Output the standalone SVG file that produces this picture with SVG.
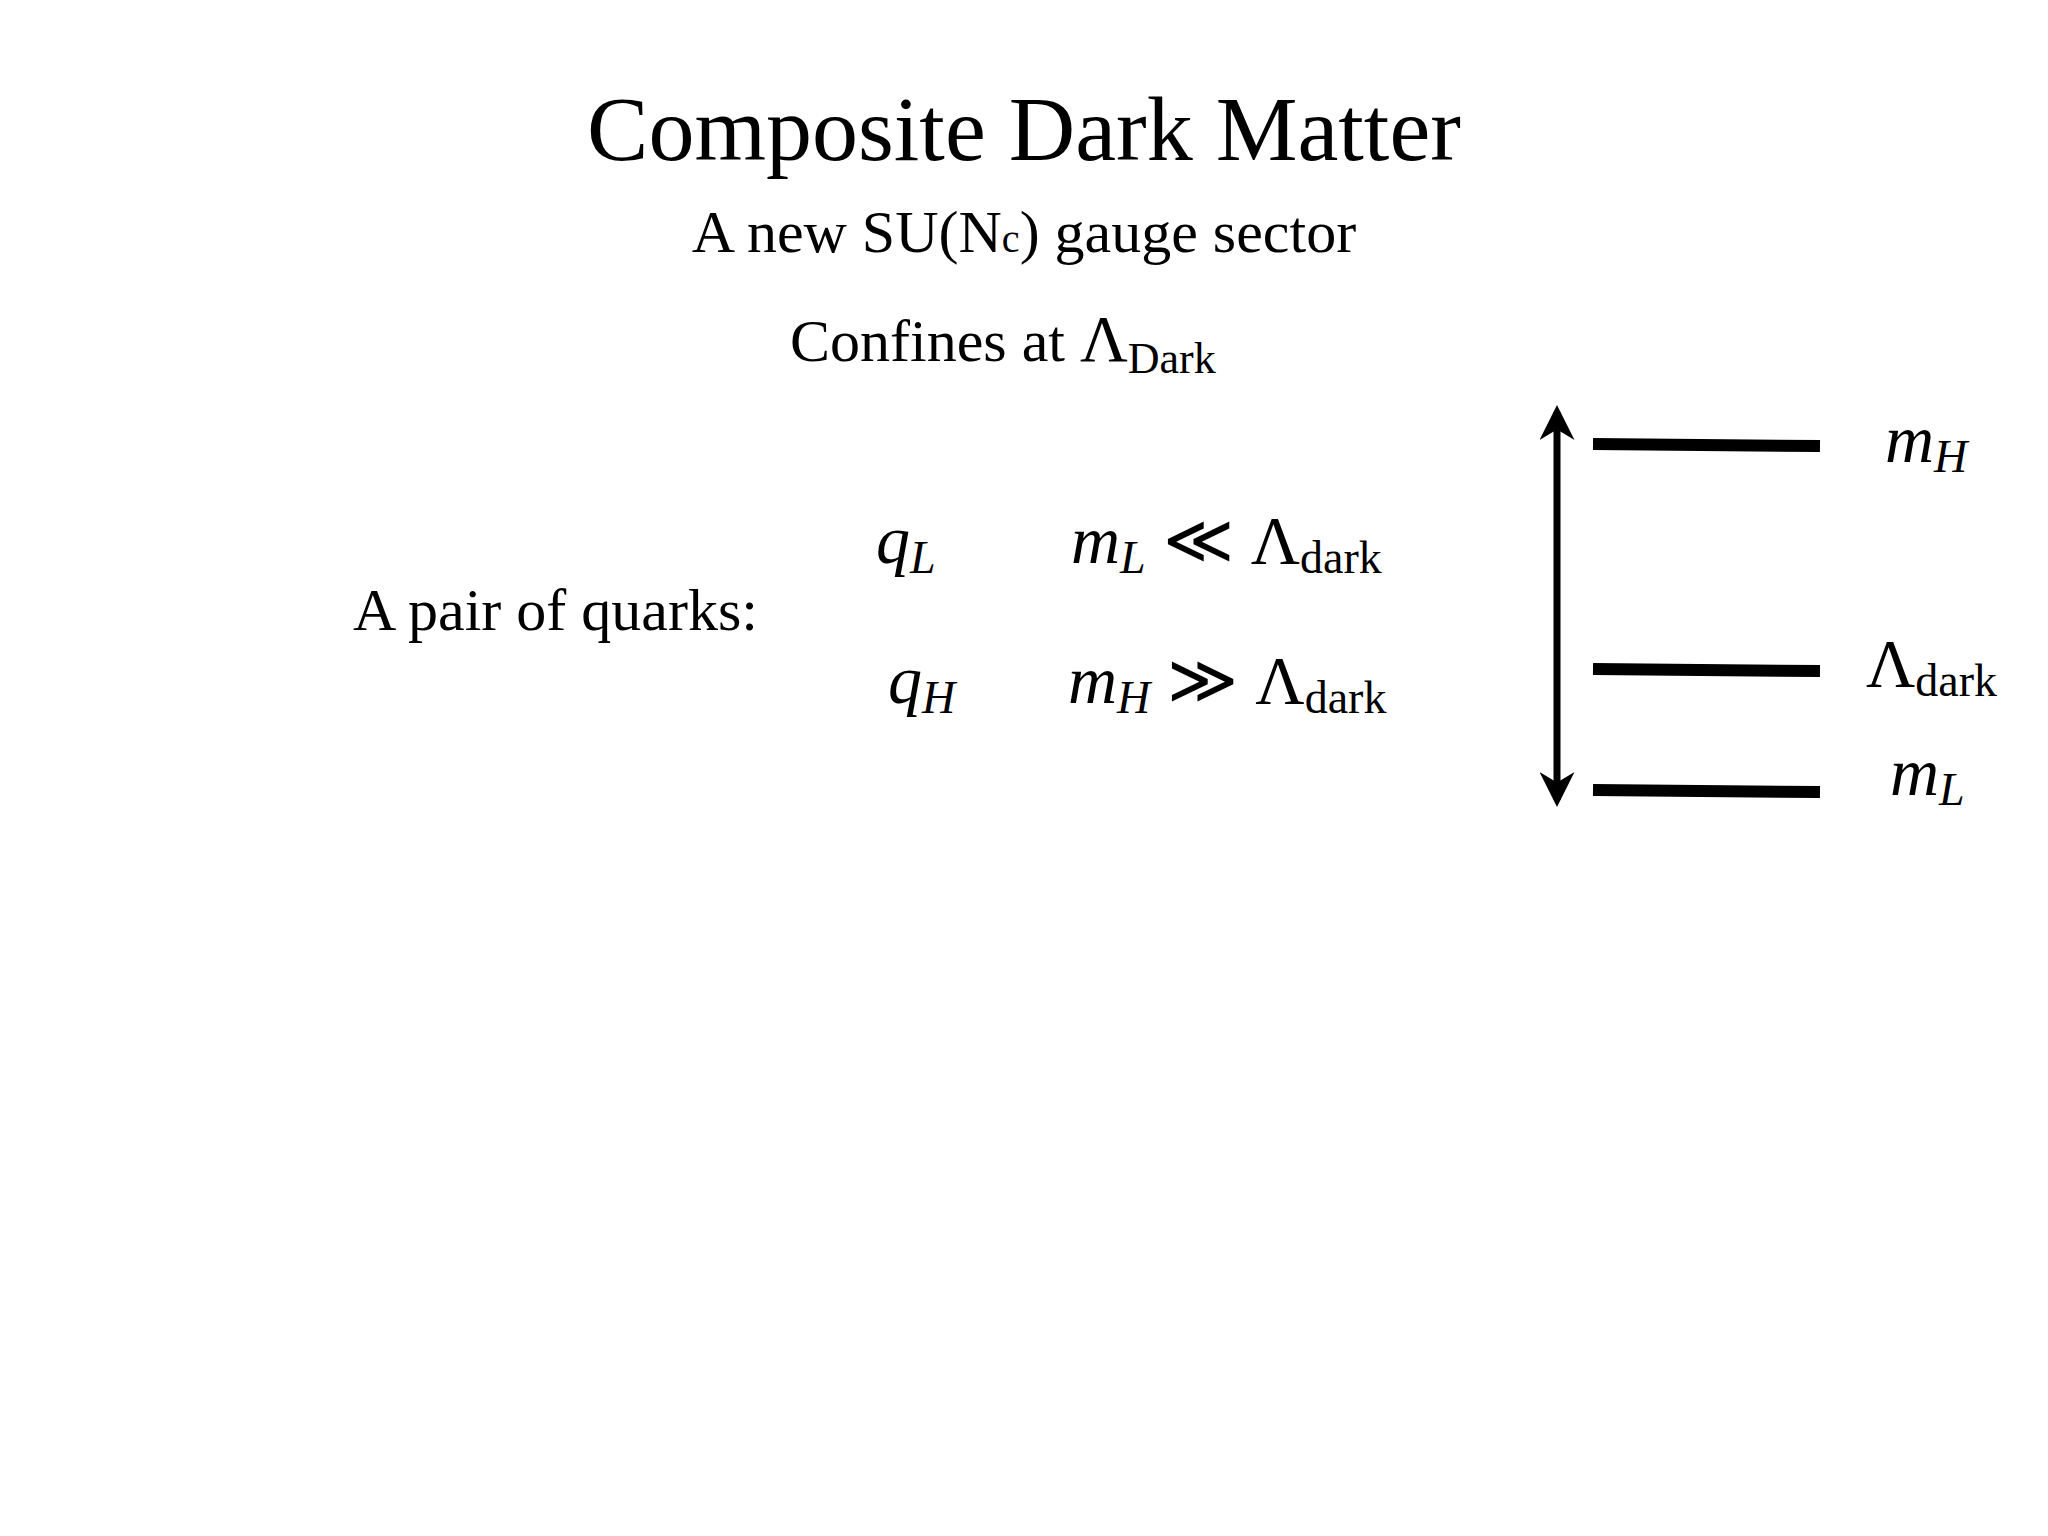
<svg xmlns="http://www.w3.org/2000/svg" width="2048" height="1536" viewBox="0 0 2048 1536">
<style>
text{font-family:"Liberation Serif","Times New Roman",serif;fill:#000}
.m{font-style:italic;font-size:68px}
.s{font-size:46px}
.r{font-size:68px;font-style:normal}
.lvl{stroke:#000;stroke-width:12}
</style>
<defs><marker id="ah" viewBox="0 0 10 10" refX="8" refY="5" markerWidth="5" markerHeight="5" orient="auto-start-reverse"><path d="M0,0 L10,5 L0,10 L3,5 Z" fill="#000"/></marker></defs>
<rect width="2048" height="1536" fill="#fff"/>
<g id="title"><text x="1024" y="160" text-anchor="middle" font-size="92">Composite Dark Matter</text></g>
<g id="subtitle"><text x="1024" y="252" text-anchor="middle" font-size="60">A new SU(N<tspan font-size="40">c</tspan>) gauge sector</text></g>
<g id="confines"><text x="790" y="361" font-size="60">Confines at <tspan font-size="66">Λ</tspan><tspan font-size="44" dy="12">Dark</tspan></text></g>
<g id="pair"><text x="353" y="630" font-size="60">A pair of quarks:</text></g>
<g id="qL"><text x="876" y="563" class="m">q<tspan font-size="46" dy="10">L</tspan></text>
<text x="1071" y="563" class="m">m<tspan font-size="46" dy="10">L</tspan><tspan class="r" dy="-10"> ≪ Λ</tspan><tspan class="s" dy="10" font-style="normal">dark</tspan></text></g>
<g id="qH"><text x="888" y="703" class="m">q<tspan font-size="46" dy="10">H</tspan></text>
<text x="1068" y="703" class="m">m<tspan font-size="46" dy="10">H</tspan><tspan class="r" dy="-10"> ≫ Λ</tspan><tspan class="s" dy="10" font-style="normal">dark</tspan></text></g>
<g id="connectors"><line x1="1557" y1="800" x2="1557" y2="412" stroke="#000" stroke-width="7" marker-start="url(#ah)" marker-end="url(#ah)"/></g>
<g id="levelH"><line class="lvl" x1="1593" y1="444" x2="1820" y2="446"/><text x="1885" y="462" class="m">m<tspan font-size="46" dy="10">H</tspan></text></g>
<g id="levelLambda"><line class="lvl" x1="1593" y1="669" x2="1820" y2="671"/><text x="1866" y="686" class="r">Λ<tspan class="s" dy="10">dark</tspan></text></g>
<g id="levelL"><line class="lvl" x1="1593" y1="790" x2="1820" y2="792"/><text x="1890" y="795" class="m">m<tspan font-size="46" dy="10">L</tspan></text></g>
</svg>
